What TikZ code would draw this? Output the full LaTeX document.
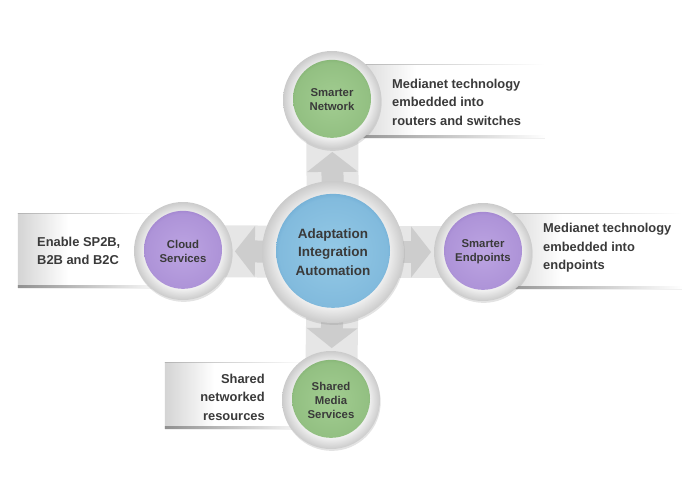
\documentclass[tikz,border=0pt]{standalone}
\usepackage{fontspec}
\setmainfont{Liberation Sans}
\usepackage{xcolor}
\usepackage{tikz}
\usetikzlibrary{arrows.meta,backgrounds,shadows}
\definecolor{mnText}{HTML}{3A3A3A}
\definecolor{mnBand}{HTML}{E6E6E6}
\definecolor{mnArrow}{HTML}{CDCDCD}
\definecolor{mnRingLt}{HTML}{F3F3F3}
\definecolor{mnRingDk}{HTML}{CBCBCB}
\definecolor{mnNote}{HTML}{D4D4D4}
\definecolor{mnNoteEdge}{HTML}{B4B4B4}
\definecolor{mnGreenLt}{HTML}{A2CD91}
\definecolor{mnGreenDk}{HTML}{6FA15F}
\definecolor{mnPurpleLt}{HTML}{BCA4E2}
\definecolor{mnPurpleDk}{HTML}{8C6CC0}
\definecolor{mnBlueLt}{HTML}{94C9E6}
\definecolor{mnBlueDk}{HTML}{5799C8}
\pgfdeclareradialshading{ringshade}{\pgfpoint{0bp}{0bp}}{color(0bp)=(white); color(19bp)=(mnRingLt); color(25bp)=(mnRingDk); color(50bp)=(mnRingDk)}
\pgfdeclareradialshading{greenball}{\pgfpoint{0bp}{0bp}}{color(0bp)=(mnGreenLt); color(19bp)=(mnGreenLt!70!mnGreenDk); color(25bp)=(mnGreenDk); color(50bp)=(mnGreenDk)}
\pgfdeclareradialshading{purpleball}{\pgfpoint{0bp}{0bp}}{color(0bp)=(mnPurpleLt); color(19bp)=(mnPurpleLt!70!mnPurpleDk); color(25bp)=(mnPurpleDk); color(50bp)=(mnPurpleDk)}
\pgfdeclareradialshading{blueball}{\pgfpoint{0bp}{0bp}}{color(0bp)=(mnBlueLt); color(19bp)=(mnBlueLt!70!mnBlueDk); color(25bp)=(mnBlueDk); color(50bp)=(mnBlueDk)}
\pgfdeclarehorizontalshading{notefade}{100bp}{color(0bp)=(mnNote); color(25bp)=(mnNote); color(42bp)=(white); color(100bp)=(white)}
\tikzset{
  hubring/.style={circle,inner sep=0pt,minimum size=#1,shade,shading=ringshade,
    drop shadow={opacity=0.22,shadow xshift=0.6pt,shadow yshift=-1.6pt},
    text=mnText,align=center},
  hubdisc/.style 2 args={path picture={\shade[shading=#1] ([yshift=1pt]path picture bounding box.center) circle (#2);}},
  smallhub/.style={hubring=2.94cm,font=\fontsize{9.7}{12}\selectfont\bfseries},
  bighub/.style={hubring=4.26cm,font=\fontsize{11.5}{15.6}\selectfont\bfseries},
  notebox/.style={rectangle,inner sep=0pt,shade,shading=notefade,
    drop shadow={opacity=0.12,shadow xshift=0pt,shadow yshift=-1.4pt},
    path picture={
      \shade[left color=mnNoteEdge,right color=white]
        (path picture bounding box.north west) rectangle ([yshift=-0.7pt]path picture bounding box.north east);
      \shade[left color=mnNoteEdge!80!black,right color=white]
        (path picture bounding box.south west) rectangle ([yshift=1.6pt]path picture bounding box.south east);}},
  notetext/.style={inner sep=0pt,text=mnText,font=\fontsize{11}{15.8}\selectfont\bfseries},
  band/.style={line width=1.56cm,mnBand},
  pointer/.style={line width=0.66cm,mnArrow,-{Triangle[length=0.6cm 0,width=1.5cm 0]},shorten >=0.08cm}
}
\begin{document}
\begin{tikzpicture}[x=0.03cm,y=-0.03cm]
  \useasboundingbox (0,0) rectangle (700,500);
  \node[bighub,hubdisc={blueball}{1.71cm}] (core) at (333,252) {Adaptation\\Integration\\Automation};
  \node[smallhub,hubdisc={greenball}{1.17cm}] (network) at (332,100) {Smarter\\Network};
  \node[smallhub,hubdisc={purpleball}{1.17cm}] (cloud) at (183,251) {Cloud\\Services};
  \node[smallhub,hubdisc={purpleball}{1.17cm}] (endpoints) at (483,252) {Smarter\\Endpoints};
  \node[smallhub,hubdisc={greenball}{1.17cm}] (media) at (331,400) {Shared\\Media\\Services};
  \node[notetext,anchor=west,align=left] (networktext) at (392,102) {Medianet technology\\embedded into\\routers and switches};
  \node[notetext,anchor=west,align=left] (cloudtext) at (37,251) {Enable SP2B,\\B2B and B2C};
  \node[notetext,anchor=west,align=left] (endpointstext) at (543,248) {Medianet technology\\embedded into\\endpoints};
  \node[notetext,anchor=east,align=right] (mediatext) at (265,397) {Shared\\networked\\resources};
  \begin{pgfonlayer}{background}
    \node[notebox,minimum width=5.85cm,minimum height=2.19cm] (networknote) at (447.5,100.5) {};
    \node[notebox,minimum width=4.41cm,minimum height=2.22cm] (cloudnote) at (91.5,250) {};
    \node[notebox,minimum width=5.46cm,minimum height=2.25cm] (endpointsnote) at (591,250.5) {};
    \node[notebox,minimum width=4.35cm,minimum height=1.98cm] (medianote) at (237.5,395) {};
    \draw[band] (core.center) -- (network.center);
    \draw[band] (core.center) -- (cloud.center);
    \draw[band] (core.center) -- (endpoints.center);
    \draw[band] (core.center) -- (media.center);
    \draw[pointer] (core.center) -- (network);
    \draw[pointer] (core.center) -- (cloud);
    \draw[pointer] (core.center) -- (endpoints);
    \draw[pointer] (core.center) -- (media);
  \end{pgfonlayer}
\end{tikzpicture}
\end{document}
